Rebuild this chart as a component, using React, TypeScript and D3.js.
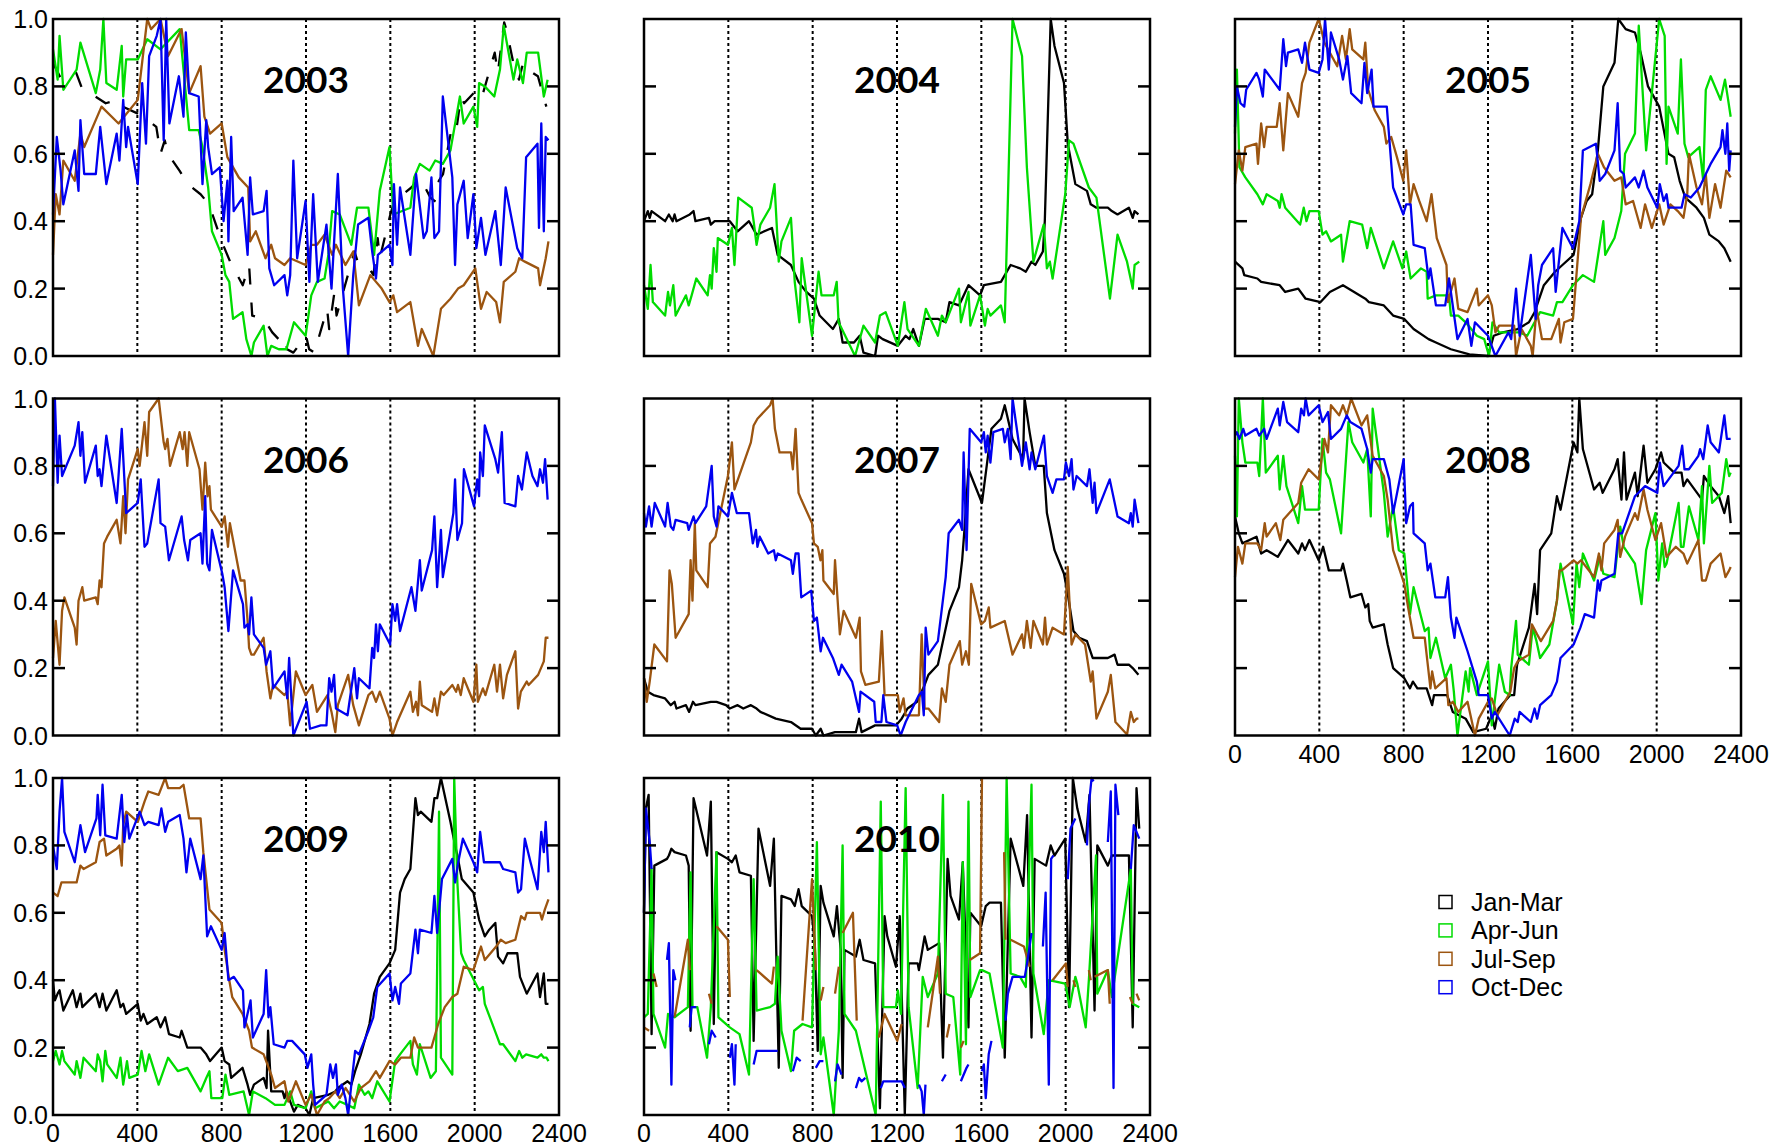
import React from 'react';
import * as d3 from 'd3';

type Pt = [number, number] | null;

// ---- data: [sample index, normalised value], null = gap ----
const jan2003: Pt[] = [[0,.87],[40,.82],[110,.84],[140,.79],[200,.77],[250,.75],[310,.76],[330,.74],[400,.72],[450,.70],[490,.68],[510,.60],[530,.64],[545,.60],[600,.55],[640,.51],[700,.48],[740,.45],[800,.34],[840,.28],[900,.21],[930,.27],[945,.12],[1000,.11],[1020,.09],[1040,.07],[1070,.05],[1100,.06],[1110,.02],[1140,.01],[1200,.06],[1215,.02],[1240,.01],[1300,.14],[1310,.08],[1335,.19],[1345,.12],[1430,.31],[1445,.28],[1500,.26],[1520,.24],[1540,.35],[1550,.29],[1600,.42],[1620,.46],[1700,.50],[1740,.53],[1790,.47],[1810,.46],[1830,.52],[1850,.54],[1895,.69],[1915,.68],[1935,.77],[1950,.75],[1995,.78],[2025,.76],[2035,.77],[2095,.90],[2110,.84],[2140,.99],[2150,.97],[2190,.85],[2210,.82],[2230,.87],[2250,.85],[2300,.83],[2340,.74]];
const apr2003: Pt[] = [[0,.91],[22,.82],[31,.95],[49,.79],[112,.85],[130,.93],[203,.78],[224,.85],[239,1],[253,.81],[302,.79],[326,.92],[333,.77],[347,.88],[402,.88],[447,.94],[510,.91],[601,.97],[646,.67],[691,.67],[709,.62],[736,.5],[754,.37],[800,.3],[818,.24],[836,.22],[854,.11],[899,.13],[917,.05],[941,0],[953,.04],[999,.09],[1017,0],[1035,.03],[1071,.02],[1107,.02],[1143,.1],[1198,.06],[1225,.18],[1252,.22],[1288,.23],[1306,.3],[1324,.43],[1360,.42],[1415,.33],[1442,.44],[1496,.44],[1523,.3],[1550,.49],[1596,.62],[1614,.42],[1695,.44],[1713,.53],[1740,.57],[1786,.55],[1813,.58],[1849,.57],[1885,.61],[1930,.77],[1948,.69],[1994,.74],[2012,.68],[2021,.81],[2048,.8],[2093,.77],[2120,.85],[2138,.98],[2184,.82],[2202,.88],[2229,.81],[2247,.9],[2301,.9],[2328,.77],[2346,.82]];
const jul2003: Pt[] = [[0,.3],[13,.48],[31,.42],[49,.58],[103,.52],[130,.66],[148,.62],[230,.74],[311,.69],[402,.76],[447,1],[465,.97],[510,1],[546,.89],[610,.97],[646,.78],[700,.86],[718,.71],[745,.66],[800,.69],[827,.59],[881,.53],[926,.5],[935,.34],[962,.37],[1008,.29],[1035,.33],[1053,.29],[1098,.27],[1125,.29],[1198,.27],[1225,.33],[1252,.33],[1288,.36],[1324,.3],[1342,.33],[1387,.27],[1424,.31],[1451,.15],[1505,.24],[1559,.2],[1596,.16],[1614,.18],[1632,.13],[1695,.16],[1731,.03],[1749,.08],[1804,0],[1822,.07],[1840,.14],[1885,.17],[1921,.2],[1948,.21],[2003,.26],[2030,.14],[2057,.19],[2102,.16],[2120,.1],[2138,.22],[2193,.25],[2211,.29],[2238,.28],[2301,.26],[2310,.21],[2337,.29],[2350,.34]];
const oct2003: Pt[] = [[0,.42],[18,.65],[36,.55],[49,.45],[103,.61],[121,.49],[130,.7],[148,.54],[203,.54],[224,.68],[253,.51],[302,.66],[315,.58],[333,.76],[347,.62],[356,.68],[402,.51],[423,.81],[441,.63],[456,.89],[492,.95],[510,1],[525,.64],[537,1],[552,.69],[597,.83],[619,.71],[630,.96],[646,.78],[691,.77],[709,.51],[727,.7],[736,.62],[754,.54],[791,.56],[809,.4],[827,.52],[832,.34],[845,.65],[857,.43],[899,.47],[923,.3],[935,.53],[948,.42],[999,.43],[1013,.49],[1026,.26],[1049,.21],[1098,.24],[1111,.18],[1125,.24],[1140,.58],[1158,.29],[1198,.46],[1216,.22],[1234,.48],[1256,.22],[1297,.39],[1321,.2],[1351,.54],[1375,.2],[1400,0],[1424,.24],[1447,.39],[1496,.41],[1514,.31],[1532,.23],[1541,.3],[1596,.33],[1610,.27],[1617,.51],[1632,.33],[1646,.5],[1695,.3],[1722,.54],[1758,.35],[1773,.37],[1795,.53],[1809,.35],[1831,.37],[1849,.77],[1894,.53],[1907,.27],[1918,.45],[1948,.52],[1967,.35],[1994,.48],[2008,.32],[2030,.41],[2051,.3],[2098,.43],[2124,.27],[2147,.5],[2202,.32],[2226,.29],[2244,.59],[2298,.63],[2305,.38],[2316,.69],[2328,.37],[2337,.65],[2350,.64]];

const jan2004: Pt[] = [[0,.4],[18,.43],[27,.41],[36,.43],[100,.4],[118,.42],[136,.4],[145,.42],[154,.4],[217,.42],[235,.43],[244,.4],[308,.41],[317,.39],[335,.4],[407,.4],[444,.37],[498,.4],[534,.36],[607,.38],[634,.3],[697,.27],[733,.22],[770,.19],[806,.17],[833,.12],[896,.08],[924,.11],[942,.04],[996,.04],[1023,.06],[1041,.01],[1096,0],[1110,.06],[1132,.05],[1204,.03],[1241,.06],[1259,.05],[1277,.08],[1304,.03],[1331,.11],[1394,.11],[1431,.1],[1449,.16],[1494,.15],[1539,.21],[1594,.18],[1612,.21],[1693,.22],[1739,.27],[1784,.26],[1811,.25],[1838,.28],[1856,.27],[1892,.31],[1901,.4],[1929,1],[1947,.92],[1992,.81],[2010,.63],[2046,.51],[2101,.49],[2119,.45],[2146,.44],[2200,.44],[2219,.43],[2246,.42],[2300,.44],[2318,.41],[2327,.43],[2345,.42]];
const apr2004: Pt[] = [[0,.21],[18,.14],[31,.27],[42,.16],[100,.12],[114,.19],[123,.15],[139,.21],[150,.12],[199,.18],[212,.15],[226,.18],[248,.23],[302,.18],[313,.24],[321,.2],[331,.32],[344,.25],[350,.35],[398,.33],[417,.38],[429,.27],[447,.47],[511,.44],[520,.4],[534,.33],[552,.39],[598,.44],[619,.51],[639,.28],[652,.34],[697,.41],[715,.22],[737,.1],[748,.29],[797,.06],[828,.25],[842,.18],[900,.18],[914,.22],[923,.1],[1001,0],[1041,.09],[1096,.04],[1119,.12],[1146,.13],[1204,.03],[1235,.16],[1250,.08],[1304,.03],[1337,.14],[1394,.06],[1413,.12],[1431,.1],[1494,.2],[1503,.1],[1539,.19],[1548,.09],[1594,.18],[1617,.09],[1630,.14],[1643,.12],[1693,.15],[1711,.1],[1748,1],[1793,.89],[1816,.56],[1847,.28],[1896,.39],[1911,.26],[1925,.28],[1938,.23],[1998,.48],[2016,.64],[2037,.63],[2110,.5],[2146,.47],[2210,.17],[2246,.36],[2291,.28],[2318,.2],[2327,.27],[2349,.28]];

const jan2005: Pt[] = [[0,.28],[35,.26],[44,.24],[106,.23],[124,.22],[212,.21],[238,.19],[300,.2],[335,.17],[406,.16],[450,.19],[512,.21],[565,.19],[618,.17],[635,.16],[706,.15],[750,.12],[803,.11],[847,.08],[918,.05],[953,.04],[1024,.02],[1112,.005],[1200,0],[1227,.06],[1271,.07],[1341,.08],[1394,.1],[1421,.13],[1465,.21],[1518,.25],[1553,.27],[1606,.3],[1641,.41],[1668,.46],[1694,.48],[1721,.61],[1747,.8],[1800,.87],[1818,1],[1853,.97],[1897,.96],[1924,.9],[1959,.8],[1977,.78],[2012,.74],[2056,.6],[2083,.59],[2109,.52],[2136,.47],[2189,.44],[2224,.41],[2250,.36],[2295,.34],[2321,.32],[2351,.28]];
const apr2005: Pt[] = [[0,.66],[9,.85],[21,.56],[49,.53],[106,.48],[132,.45],[150,.48],[203,.46],[212,.44],[221,.48],[238,.44],[309,.39],[326,.44],[339,.4],[353,.43],[397,.43],[415,.36],[432,.37],[455,.34],[503,.36],[512,.28],[544,.4],[603,.39],[627,.32],[644,.38],[706,.26],[750,.34],[794,.26],[812,.31],[833,.23],[882,.26],[909,.25],[914,.17],[953,.18],[1015,.18],[1024,.12],[1059,.12],[1094,.1],[1147,.06],[1182,.05],[1205,0],[1221,.1],[1253,.07],[1306,.07],[1350,.07],[1386,.06],[1447,.13],[1509,.12],[1527,.16],[1553,.16],[1603,.21],[1650,.24],[1703,.22],[1747,.4],[1756,.3],[1800,.35],[1832,.43],[1850,.6],[1897,.66],[1915,.98],[1950,.61],[1977,.78],[2012,1],[2038,.95],[2047,.57],[2056,.74],[2100,.66],[2115,.88],[2132,.63],[2150,.59],[2203,.62],[2221,.52],[2233,.79],[2256,.83],[2303,.76],[2324,.82],[2339,.76],[2351,.71]];
const jul2005: Pt[] = [[0,.51],[18,.61],[35,.55],[49,.62],[102,.63],[109,.57],[124,.69],[138,.62],[150,.68],[198,.68],[212,.75],[229,.61],[251,.78],[300,.71],[318,.81],[335,.84],[353,.93],[397,1],[424,.93],[485,.86],[508,.95],[526,.88],[544,.97],[556,.91],[609,.88],[618,.93],[632,.79],[662,.73],[706,.68],[718,.63],[741,.65],[768,.59],[798,.52],[812,.61],[830,.45],[847,.51],[874,.46],[909,.4],[932,.48],[957,.35],[1003,.27],[1010,.16],[1041,.23],[1059,.14],[1103,.13],[1147,.2],[1156,.15],[1200,.18],[1218,.15],[1235,.07],[1253,.09],[1324,.09],[1333,0],[1359,.08],[1403,.03],[1412,0],[1430,.14],[1456,.05],[1500,.05],[1536,.11],[1544,.04],[1562,.1],[1603,.11],[1641,.41],[1686,.51],[1721,.6],[1750,.56],[1800,.52],[1832,.53],[1853,.45],[1888,.46],[1924,.38],[1945,.45],[1977,.38],[2012,.45],[2033,.39],[2065,.45],[2100,.43],[2127,.41],[2145,.48],[2153,.6],[2189,.5],[2215,.45],[2233,.54],[2250,.41],[2277,.51],[2303,.44],[2330,.55],[2351,.53]];
const oct2005: Pt[] = [[0,.68],[9,.8],[26,.75],[44,.74],[53,.79],[102,.84],[115,.82],[132,.77],[141,.85],[212,.79],[229,.94],[242,.86],[251,.9],[300,.91],[318,.87],[332,.93],[353,.85],[397,.84],[415,.88],[427,1],[445,.85],[455,.96],[494,.88],[512,.82],[533,.89],[551,.78],[600,.75],[614,.87],[627,.78],[648,.85],[657,.74],[720,.74],[750,.5],[798,.42],[812,.45],[833,.45],[847,.33],[900,.32],[918,.23],[927,.26],[953,.15],[997,.15],[1015,.23],[1055,.05],[1103,.11],[1121,.03],[1138,.1],[1200,.06],[1235,0],[1297,.07],[1310,.05],[1333,.2],[1350,.06],[1403,.3],[1426,.11],[1438,.21],[1456,.27],[1509,.32],[1521,.19],[1553,.38],[1603,.32],[1633,.4],[1650,.61],[1712,.63],[1730,.52],[1756,.54],[1800,.61],[1815,.75],[1827,.55],[1844,.54],[1853,.5],[1897,.53],[1915,.5],[1938,.55],[1956,.5],[2003,.44],[2015,.51],[2033,.46],[2047,.48],[2056,.44],[2118,.44],[2132,.48],[2162,.47],[2203,.5],[2233,.54],[2256,.57],[2303,.62],[2312,.67],[2326,.6],[2335,.69],[2344,.55],[2351,.61]];

const jul2006: Pt[] = [[0,.23],[13,.34],[31,.21],[43,.37],[54,.41],[103,.32],[112,.27],[121,.4],[139,.44],[148,.4],[203,.41],[212,.39],[221,.46],[230,.44],[242,.57],[257,.59],[302,.64],[320,.57],[333,.71],[344,.6],[356,.76],[402,.85],[411,.8],[434,.93],[447,.83],[456,.96],[501,1],[525,.87],[532,.85],[543,.88],[555,.8],[601,.9],[615,.85],[624,.9],[637,.8],[646,.9],[695,.79],[709,.67],[722,.81],[733,.71],[742,.74],[749,.67],[800,.62],[814,.65],[830,.56],[839,.63],[890,.46],[908,.46],[923,.34],[930,.26],[941,.24],[953,.24],[999,.29],[1013,.19],[1031,.11],[1044,.15],[1098,.12],[1111,.13],[1125,.03],[1152,.19],[1198,.12],[1230,.15],[1252,.07],[1302,.12],[1321,.07],[1339,.01],[1351,.09],[1400,.18],[1424,.09],[1451,.03],[1496,.12],[1514,.13],[1532,.1],[1550,.13],[1596,.05],[1610,0],[1632,.04],[1695,.13],[1707,.07],[1722,.1],[1731,.06],[1740,.16],[1749,.09],[1798,.07],[1809,.11],[1822,.06],[1840,.13],[1853,.12],[1894,.15],[1912,.13],[1921,.15],[1934,.12],[1948,.17],[1994,.1],[2008,.21],[2015,.1],[2039,.14],[2051,.12],[2093,.21],[2106,.13],[2120,.21],[2135,.11],[2153,.18],[2193,.25],[2206,.08],[2219,.13],[2247,.16],[2256,.15],[2301,.18],[2328,.22],[2337,.29],[2350,.29]];
const oct2006: Pt[] = [[0,.74],[9,1],[22,.75],[31,.89],[43,.77],[103,.86],[121,.93],[130,.83],[139,.9],[152,.75],[203,.86],[212,.77],[221,.79],[230,.74],[253,.89],[302,.69],[326,.91],[347,.66],[402,.69],[416,.76],[434,.56],[447,.57],[501,.76],[510,.63],[532,.62],[550,.52],[610,.65],[622,.58],[640,.52],[651,.58],[700,.6],[709,.51],[722,.71],[731,.51],[742,.49],[754,.61],[803,.48],[814,.44],[832,.31],[854,.49],[901,.39],[908,.32],[923,.33],[930,.3],[941,.41],[953,.3],[999,.26],[1011,.21],[1031,.25],[1044,.14],[1098,.19],[1111,.11],[1120,.23],[1140,0],[1203,.1],[1219,.02],[1270,.03],[1297,.03],[1310,.17],[1321,.13],[1333,.18],[1342,.08],[1397,.06],[1429,.2],[1442,.11],[1451,.17],[1501,.14],[1514,.26],[1523,.23],[1532,.33],[1541,.25],[1550,.33],[1599,.27],[1610,.39],[1623,.34],[1632,.39],[1646,.31],[1700,.44],[1719,.37],[1740,.52],[1749,.43],[1798,.55],[1809,.65],[1822,.44],[1840,.61],[1849,.47],[1899,.66],[1907,.76],[1918,.58],[1940,.63],[1949,.79],[1997,.68],[2012,.76],[2021,.71],[2026,.84],[2039,.77],[2048,.92],[2098,.82],[2111,.78],[2129,.9],[2142,.69],[2193,.68],[2206,.77],[2224,.73],[2247,.84],[2274,.77],[2298,.74],[2310,.79],[2324,.75],[2334,.82],[2346,.7]];

const jan2007: Pt[] = [[0,.17],[18,.13],[45,.12],[100,.11],[127,.09],[145,.1],[154,.08],[199,.09],[214,.07],[232,.1],[244,.09],[317,.1],[344,.1],[389,.09],[407,.08],[444,.09],[471,.08],[507,.09],[534,.08],[552,.07],[625,.05],[697,.04],[743,.02],[797,.02],[815,0],[838,.02],[851,0],[906,.01],[1005,.01],[1020,.05],[1032,.01],[1096,.03],[1141,.03],[1195,.03],[1222,.05],[1250,.08],[1295,.1],[1331,.15],[1349,.18],[1394,.21],[1449,.37],[1494,.44],[1509,.52],[1521,.62],[1539,.79],[1603,.69],[1648,.91],[1693,.94],[1711,.98],[1748,.88],[1798,.82],[1805,1],[1829,.9],[1856,.8],[1896,.8],[1911,.66],[1947,.55],[1992,.48],[2010,.42],[2037,.31],[2064,.29],[2101,.28],[2128,.23],[2200,.23],[2232,.24],[2246,.21],[2300,.21],[2318,.2],[2345,.18]];
const jul2007: Pt[] = [[0,.17],[13,.1],[27,.16],[49,.27],[109,.22],[121,.49],[132,.45],[150,.29],[212,.36],[221,.52],[230,.4],[241,.63],[248,.49],[302,.44],[313,.57],[339,.59],[398,.77],[417,.87],[429,.73],[507,.87],[520,.92],[538,.94],[598,.98],[610,1],[621,.91],[643,.84],[697,.84],[706,.79],[719,.91],[733,.72],[746,.7],[797,.63],[806,.57],[824,.56],[837,.52],[846,.55],[851,.46],[900,.42],[906,.52],[929,.3],[947,.37],[1005,.29],[1023,.35],[1029,.19],[1050,.15],[1114,.16],[1128,.31],[1141,.12],[1204,.12],[1213,.07],[1231,.11],[1241,.06],[1304,.06],[1317,.3],[1331,.08],[1349,.08],[1400,.04],[1413,.14],[1431,.1],[1449,.21],[1498,.28],[1509,.21],[1527,.25],[1541,.21],[1552,.45],[1599,.33],[1617,.34],[1635,.38],[1643,.32],[1711,.34],[1748,.24],[1793,.3],[1802,.26],[1816,.34],[1834,.26],[1847,.34],[1892,.27],[1902,.35],[1911,.27],[1938,.32],[1992,.3],[2010,.5],[2028,.27],[2046,.3],[2092,.27],[2119,.16],[2128,.19],[2146,.05],[2200,.13],[2214,.18],[2236,.04],[2291,.003],[2309,.07],[2323,.04],[2336,.05],[2345,.05]];
const oct2007: Pt[] = [[0,.66],[9,.62],[24,.68],[36,.62],[51,.69],[100,.62],[112,.69],[127,.62],[139,.61],[150,.64],[205,.63],[212,.61],[235,.65],[244,.63],[295,.68],[321,.8],[331,.65],[344,.62],[353,.68],[398,.65],[417,.72],[440,.66],[498,.66],[516,.57],[531,.61],[538,.56],[549,.59],[589,.54],[616,.55],[625,.52],[634,.54],[697,.52],[706,.48],[719,.54],[733,.54],[746,.41],[793,.43],[806,.34],[820,.35],[838,.25],[849,.29],[896,.23],[924,.18],[937,.21],[987,.16],[1020,.07],[1027,.13],[1092,.1],[1099,.04],[1126,.04],[1135,.12],[1150,.04],[1201,.03],[1217,0],[1241,.04],[1304,.12],[1318,.13],[1327,.06],[1336,.32],[1349,.24],[1394,.28],[1431,.47],[1445,.6],[1494,.64],[1509,.61],[1516,.84],[1530,.55],[1545,.91],[1599,.87],[1612,.9],[1621,.84],[1630,.89],[1643,.81],[1657,.9],[1702,.91],[1711,.87],[1726,.91],[1739,.82],[1748,1],[1793,.8],[1811,.87],[1829,.79],[1838,.84],[1856,.79],[1897,.89],[1911,.77],[1938,.72],[1956,.76],[1992,.76],[2001,.81],[2016,.77],[2028,.82],[2037,.73],[2052,.77],[2101,.74],[2113,.79],[2128,.69],[2137,.75],[2146,.66],[2209,.76],[2246,.65],[2300,.63],[2309,.66],[2318,.62],[2327,.7],[2345,.63]];

const jan2008: Pt[] = [[0,.65],[18,.6],[35,.57],[102,.59],[124,.54],[150,.55],[203,.53],[251,.58],[300,.54],[318,.57],[332,.55],[353,.58],[397,.52],[418,.56],[445,.49],[503,.49],[512,.51],[530,.46],[547,.41],[600,.42],[618,.38],[632,.39],[639,.34],[653,.32],[706,.33],[724,.27],[750,.2],[803,.17],[830,.14],[844,.16],[865,.14],[909,.14],[935,.09],[944,.12],[1006,.12],[1033,.07],[1094,.05],[1130,.01],[1191,.02],[1218,.06],[1232,.02],[1250,.08],[1306,.12],[1324,.12],[1338,.21],[1394,.32],[1421,.45],[1433,.36],[1447,.55],[1500,.6],[1527,.71],[1544,.67],[1606,.87],[1624,.84],[1633,1],[1650,.85],[1703,.73],[1730,.75],[1744,.72],[1800,.79],[1815,.82],[1833,.7],[1845,.84],[1857,.7],[1897,.78],[1910,.71],[1938,.86],[1956,.75],[1994,.79],[2021,.84],[2033,.81],[2083,.78],[2118,.78],[2127,.74],[2145,.76],[2215,.7],[2224,.77],[2256,.74],[2295,.71],[2321,.66],[2339,.71],[2351,.63]];
const apr2008: Pt[] = [[0,.83],[9,.65],[18,1],[35,.87],[49,.81],[106,.81],[115,.77],[132,1],[146,.78],[203,.83],[212,.73],[229,.83],[244,.74],[300,.63],[318,.74],[332,.67],[397,.67],[415,.88],[432,.78],[450,.76],[503,.6],[538,.93],[556,.87],[609,.81],[627,.85],[644,.65],[653,.97],[706,.72],[724,.59],[750,.68],[777,.55],[803,.54],[830,.36],[847,.44],[900,.31],[918,.32],[927,.23],[953,.29],[997,.17],[1024,.21],[1038,.13],[1055,0],[1094,.19],[1108,.13],[1115,.2],[1147,.12],[1200,.22],[1218,.03],[1253,.21],[1280,.13],[1303,.12],[1310,.2],[1333,.34],[1341,.24],[1394,.21],[1412,.32],[1430,.28],[1447,.23],[1491,.27],[1527,.4],[1544,.51],[1603,.33],[1620,.51],[1633,.44],[1650,.54],[1703,.46],[1730,.53],[1747,.48],[1800,.47],[1827,.62],[1844,.56],[1897,.51],[1928,.39],[1950,.55],[1994,.66],[2008,.46],[2026,.57],[2038,.5],[2047,.51],[2104,.69],[2115,.56],[2127,.56],[2153,.68],[2198,.58],[2215,.74],[2224,.57],[2250,.8],[2263,.69],[2309,.72],[2330,.82],[2344,.77],[2351,.78]];
const jul2008: Pt[] = [[0,.47],[14,.56],[35,.51],[49,.57],[106,.57],[124,.55],[141,.63],[150,.59],[194,.63],[215,.58],[229,.64],[300,.69],[314,.75],[349,.79],[397,.76],[424,.88],[441,.84],[455,.98],[494,.95],[512,.98],[530,.95],[551,1],[600,.92],[627,.95],[653,.83],[706,.77],[724,.7],[750,.55],[803,.45],[821,.38],[847,.29],[900,.29],[927,.14],[935,.19],[950,.14],[1003,.17],[1012,.09],[1033,.1],[1059,.07],[1103,.1],[1138,0],[1156,.05],[1200,.1],[1218,.11],[1244,.06],[1306,.13],[1324,.2],[1341,.22],[1394,.24],[1408,.33],[1433,.3],[1451,.28],[1509,.34],[1527,.4],[1539,.49],[1550,.49],[1606,.52],[1624,.51],[1641,.52],[1703,.47],[1726,.54],[1738,.49],[1751,.57],[1800,.61],[1815,.64],[1827,.53],[1850,.59],[1897,.66],[1910,.64],[1938,.73],[1956,.67],[1994,.58],[2021,.63],[2047,.53],[2091,.56],[2127,.54],[2145,.51],[2198,.58],[2215,.46],[2233,.46],[2256,.51],[2303,.54],[2326,.47],[2344,.49],[2351,.5]];
const oct2008: Pt[] = [[0,.89],[9,.9],[21,.88],[39,.91],[49,.89],[102,.91],[115,.89],[138,.91],[150,.88],[203,.97],[212,.92],[229,.99],[247,.93],[300,.9],[314,.97],[327,.95],[335,1],[349,.95],[397,.98],[415,.93],[441,.96],[455,.88],[503,.91],[530,.95],[547,.93],[600,.91],[627,.85],[644,.78],[653,.82],[706,.82],[732,.76],[750,.66],[800,.82],[812,.63],[830,.68],[844,.69],[847,.6],[900,.57],[914,.49],[927,.51],[950,.41],[997,.41],[1010,.47],[1024,.35],[1041,.29],[1050,.35],[1103,.25],[1147,.16],[1156,.12],[1200,.12],[1218,.05],[1232,.07],[1303,0],[1327,.05],[1341,.04],[1350,.07],[1403,.04],[1421,.08],[1433,.05],[1447,.09],[1500,.12],[1527,.16],[1544,.23],[1606,.27],[1638,.32],[1659,.36],[1703,.35],[1721,.46],[1730,.43],[1738,.46],[1800,.48],[1818,.6],[1836,.6],[1897,.71],[1945,.74],[2003,.72],[2015,.81],[2033,.74],[2104,.8],[2121,.86],[2132,.79],[2153,.79],[2198,.83],[2206,.85],[2221,.82],[2242,.92],[2256,.87],[2295,.84],[2321,.95],[2333,.88],[2351,.88]];

const jan2009: Pt[] = [[0,.4],[9,.34],[22,.36],[31,.37],[49,.31],[94,.37],[112,.32],[130,.36],[139,.32],[203,.36],[221,.32],[235,.36],[253,.31],[302,.37],[320,.32],[333,.33],[347,.3],[402,.33],[416,.28],[429,.3],[447,.27],[492,.29],[510,.26],[532,.29],[550,.24],[601,.23],[610,.25],[637,.2],[700,.2],[727,.18],[745,.16],[800,.2],[814,.16],[836,.15],[845,.11],[899,.14],[923,.09],[935,.06],[953,.09],[999,.11],[1013,.08],[1020,.25],[1035,.07],[1089,.07],[1098,.05],[1107,.07],[1143,.01],[1161,.03],[1198,.02],[1216,0],[1234,.05],[1306,.06],[1339,.07],[1351,.08],[1397,.1],[1415,.09],[1433,.13],[1460,.18],[1501,.27],[1523,.36],[1550,.41],[1596,.45],[1623,.49],[1646,.66],[1668,.7],[1695,.73],[1719,.94],[1731,.89],[1744,.9],[1795,.87],[1809,.94],[1822,.94],[1840,1],[1885,.87],[1907,.8],[1918,.77],[1939,.7],[1994,.66],[2021,.58],[2048,.53],[2069,.55],[2098,.57],[2111,.47],[2135,.45],[2156,.48],[2202,.48],[2215,.41],[2247,.36],[2298,.42],[2310,.35],[2328,.42],[2337,.33],[2350,.33]];
const apr2009: Pt[] = [[0,.16],[13,.19],[31,.15],[43,.19],[54,.16],[103,.12],[112,.16],[130,.11],[145,.17],[203,.13],[212,.18],[224,.16],[235,.1],[248,.19],[257,.15],[302,.11],[320,.17],[333,.09],[351,.16],[362,.11],[402,.12],[420,.19],[438,.13],[456,.18],[501,.09],[546,.17],[592,.13],[637,.14],[700,.07],[727,.11],[742,.13],[751,.05],[803,.05],[818,.12],[836,.06],[904,.07],[930,0],[948,.07],[1008,.05],[1053,.03],[1098,.03],[1125,.07],[1143,.03],[1198,.02],[1225,.07],[1243,.02],[1306,.04],[1333,.02],[1360,.04],[1397,.03],[1429,.02],[1451,.09],[1478,.06],[1496,.07],[1514,.05],[1538,.1],[1596,.04],[1623,.16],[1646,.18],[1695,.22],[1707,.15],[1726,.12],[1740,.21],[1791,.11],[1816,.13],[1831,.9],[1840,.17],[1894,.12],[1903,1],[1918,.69],[1936,.48],[1948,.46],[1997,.4],[2021,.37],[2039,.38],[2048,.33],[2102,.24],[2120,.21],[2135,.21],[2193,.16],[2211,.19],[2226,.17],[2244,.18],[2298,.17],[2316,.18],[2328,.17],[2341,.17],[2350,.16]];
const jul2009: Pt[] = [[0,.66],[22,.65],[40,.69],[103,.69],[112,.69],[130,.74],[145,.73],[203,.75],[221,.81],[242,.82],[253,.77],[302,.79],[315,.8],[326,.74],[333,.86],[347,.9],[402,.87],[434,.93],[452,.96],[501,.95],[532,1],[546,.97],[601,.97],[619,.98],[646,.88],[700,.88],[713,.78],[742,.61],[800,.57],[814,.49],[836,.4],[850,.35],[899,.3],[930,.25],[944,.2],[999,.18],[1035,.12],[1053,.08],[1098,.1],[1116,.04],[1152,.1],[1198,.03],[1225,.06],[1252,0],[1288,.04],[1310,.05],[1339,.07],[1360,.05],[1388,.08],[1429,.04],[1460,.08],[1501,.1],[1532,.13],[1550,.11],[1596,.16],[1623,.15],[1650,.17],[1695,.17],[1713,.23],[1731,.2],[1795,.2],[1827,.27],[1858,.32],[1894,.35],[1918,.36],[1948,.44],[1994,.43],[2030,.5],[2048,.46],[2102,.5],[2124,.52],[2147,.51],[2193,.52],[2220,.59],[2238,.58],[2247,.6],[2310,.6],[2319,.58],[2333,.61],[2350,.64]];
const oct2009: Pt[] = [[0,.8],[18,.73],[31,.9],[43,1],[54,.84],[103,.75],[130,.86],[152,.78],[206,.88],[212,.95],[224,.83],[235,.98],[248,.83],[302,.82],[326,.95],[338,.81],[351,.89],[362,.82],[411,.9],[434,.86],[452,.87],[501,.86],[514,.91],[532,.84],[546,.87],[601,.89],[619,.82],[633,.72],[651,.82],[700,.7],[713,.77],[731,.53],[749,.56],[800,.49],[814,.54],[832,.4],[858,.41],[901,.37],[908,.26],[937,.34],[948,.23],[999,.3],[1011,.43],[1022,.29],[1031,.32],[1047,.21],[1098,.2],[1111,.22],[1134,.22],[1194,.18],[1207,.14],[1225,.18],[1234,.09],[1243,.03],[1297,.06],[1315,.15],[1328,.11],[1342,.15],[1351,.06],[1369,.09],[1387,.05],[1400,0],[1415,.09],[1433,.19],[1451,.18],[1496,.25],[1519,.29],[1538,.38],[1596,.42],[1610,.34],[1623,.38],[1641,.33],[1650,.39],[1695,.42],[1719,.55],[1731,.48],[1740,.55],[1795,.54],[1809,.65],[1822,.54],[1845,.7],[1894,.76],[1907,.69],[1922,.75],[1944,.82],[1994,.75],[2012,.72],[2026,.84],[2044,.75],[2098,.75],[2120,.75],[2135,.73],[2193,.72],[2206,.66],[2220,.67],[2238,.82],[2265,.75],[2298,.67],[2316,.84],[2328,.78],[2337,.87],[2350,.72]];

const jan2010: Pt[] = [[0,.6],[9,.91],[22,.95],[36,.24],[49,.74],[109,.76],[118,.77],[130,.79],[145,.78],[199,.77],[212,.74],[221,.25],[235,.94],[299,.77],[317,.93],[331,.27],[344,.78],[398,.76],[417,.75],[435,.77],[453,.72],[507,.71],[520,.22],[543,.85],[598,.68],[616,.82],[639,.14],[652,.65],[697,.64],[715,.62],[733,.67],[748,.62],[797,.59],[810,.51],[824,.19],[838,.68],[851,.63],[900,.53],[915,.62],[933,.49],[942,.11],[951,.49],[1005,.47],[1023,.52],[1041,.46],[1096,.45],[1119,.02],[1141,.59],[1154,.53],[1195,.44],[1213,.59],[1237,0],[1255,.45],[1298,.45],[1304,.43],[1331,.53],[1346,.49],[1400,.51],[1418,.17],[1440,.76],[1454,.65],[1494,.58],[1512,.75],[1539,.26],[1548,.6],[1599,.56],[1621,.62],[1639,.63],[1693,.63],[1711,.17],[1739,.82],[1799,.68],[1817,.89],[1838,.23],[1853,.76],[1907,.74],[1929,.8],[1947,.77],[1998,.82],[2016,.32],[2034,1],[2055,.91],[2095,.81],[2113,.95],[2137,.31],[2150,.8],[2200,.74],[2219,.77],[2300,.77],[2318,.26],[2336,.97],[2349,.85]];
const apr2010: Pt[] = [[0,.29],[18,.3],[36,.73],[45,.3],[100,.2],[114,.3],[145,.29],[208,.32],[221,.72],[230,.32],[253,.32],[299,.17],[317,.32],[344,.78],[353,.29],[407,.26],[453,.24],[498,.12],[520,.7],[534,.31],[598,.32],[621,.33],[634,.47],[652,.25],[697,.13],[712,.25],[752,.27],[797,.26],[820,.81],[838,.18],[851,.23],[900,0],[924,.25],[942,.8],[951,.3],[1005,.25],[1099,0],[1123,.93],[1135,.32],[1195,.32],[1204,.37],[1219,.3],[1241,.97],[1255,.32],[1298,.08],[1322,.41],[1346,.35],[1394,.42],[1418,.95],[1431,.36],[1467,.35],[1500,.12],[1512,.75],[1527,.21],[1539,.93],[1548,.35],[1594,.43],[1603,.43],[1639,.42],[1702,.2],[1720,1],[1739,.42],[1784,.41],[1811,.38],[1838,.98],[1847,.42],[1896,.24],[1920,.4],[1998,.39],[2019,.32],[2046,.41],[2055,.39],[2095,.26],[2110,.4],[2144,.77],[2150,.36],[2200,.43],[2219,.35],[2309,.73],[2318,.33],[2349,.32]];
const jul2010: Pt[] = [[0,.26],[24,.25],null,[45,.42],[60,.38],null,[145,.29],[208,.52],[217,.43],null,[308,.36],[321,.33],null,[344,.56],[398,.52],[407,.35],null,[534,.43],[552,.42],[607,.39],[616,.44],null,[752,.28],[797,.7],[815,.43],null,[838,.34],[851,.38],null,[906,.36],[924,.44],null,[942,.54],[991,.6],[1009,.28],null,[1114,.23],[1141,.3],[1201,.22],[1222,.27],null,[1346,.26],[1394,.47],[1404,.36],null,[1436,.23],[1449,.27],null,[1503,.2],[1516,.22],null,[1545,.46],[1594,.48],[1603,1],null,[1708,.78],[1715,.52],null,[1739,.52],[1802,.5],[1829,.44],null,[1938,.4],[2001,.45],[2010,.38],null,[2037,.4],[2046,.38],null,[2110,.43],[2119,.4],null,[2137,.41],[2200,.43],[2209,.33],null,[2305,.35],[2318,.33],null,[2336,.36],[2349,.34]];
const oct2010: Pt[] = [[0,.6],[9,.91],[27,.81],[36,.73],null,[109,.46],[118,.51],[130,.09],[139,.43],[149,.4],null,[217,.26],[226,.32],[248,.32],null,[308,.21],[321,.25],[340,.23],null,[407,.17],[417,.21],[429,.09],[435,.21],null,[520,.15],[534,.19],[634,.19],null,[706,.13],[724,.17],[743,.16],null,[815,.14],[833,.16],[851,.16],null,[906,.1],[918,.15],[937,.12],null,[1005,.08],[1020,.11],[1032,.1],[1050,.11],null,[1123,.08],[1135,.1],[1222,.1],[1237,.08],null,[1304,.09],[1317,.07],[1327,0],[1335,.09],null,[1413,.1],[1431,.12],null,[1503,.1],[1530,.14],[1539,.15],null,[1603,.13],[1612,.15],[1621,.05],[1635,.18],[1648,.22],null,[1715,.28],[1726,.36],[1748,.41],[1806,.41],[1817,.45],[1838,.54],null,[1892,.5],[1905,.66],[1920,.09],[1931,.76],[1942,.77],null,[2010,.7],[2023,.85],[2046,.88],null,[2101,.8],[2110,.92],[2123,1],[2132,.99],null,[2200,.81],[2214,.96],[2227,.08],[2236,.98],[2250,.89],null,[2309,.73],[2323,.86],[2336,.84],[2349,.82]];

const quarters = ['Jan-Mar', 'Apr-Jun', 'Jul-Sep', 'Oct-Dec'];
const quarterColors = ['#000000', '#00dc00', '#9c5510', '#0000f0'];
const xTicks = [0, 400, 800, 1200, 1600, 2000, 2400];
const yTicks = [0, 0.2, 0.4, 0.6, 0.8, 1.0];
const gridLines = [400, 800, 1200, 1600, 2000];

// series: [quarter index, data, dashed]
const panels: { year: string; col: number; row: number; series: [number, Pt[], boolean?][] }[] = [
  { year: '2003', col: 0, row: 0, series: [[0, jan2003, true], [1, apr2003], [2, jul2003], [3, oct2003]] },
  { year: '2004', col: 1, row: 0, series: [[0, jan2004], [1, apr2004]] },
  { year: '2005', col: 2, row: 0, series: [[0, jan2005], [1, apr2005], [2, jul2005], [3, oct2005]] },
  { year: '2006', col: 0, row: 1, series: [[2, jul2006], [3, oct2006]] },
  { year: '2007', col: 1, row: 1, series: [[0, jan2007], [2, jul2007], [3, oct2007]] },
  { year: '2008', col: 2, row: 1, series: [[0, jan2008], [1, apr2008], [2, jul2008], [3, oct2008]] },
  { year: '2009', col: 0, row: 2, series: [[0, jan2009], [1, apr2009], [2, jul2009], [3, oct2009]] },
  { year: '2010', col: 1, row: 2, series: [[0, jan2010], [1, apr2010], [2, jul2010], [3, oct2010]] },
];

const W = 506;
const H = 337;
const left0 = 53;
const top0 = 19;
const colStep = 591;
const rowStep = 379.5;
const tickFont = '"Liberation Sans", Arial, sans-serif';

const x = d3.scaleLinear().domain([0, 2400]).range([0, W]);
const y = d3.scaleLinear().domain([0, 1]).range([H, 0]);
const line = d3.line<Pt>()
  .defined(d => d !== null)
  .x(d => x((d as [number, number])[0]))
  .y(d => y((d as [number, number])[1]));

const Panel = ({ p }) => {
  const showX = p.row === 2 || (p.col === 2 && p.row === 1);
  const showY = p.col === 0;
  return (
    <g transform={`translate(${left0 + p.col * colStep},${top0 + p.row * rowStep})`}>
      {gridLines.map(g => (
        <line key={g} x1={x(g)} x2={x(g)} y1={0} y2={H} stroke="#000" strokeWidth={2} strokeDasharray="3,3" />
      ))}
      {p.series.map(([q, data, dashed]) => (
        <path key={q} d={line(data) || ''} fill="none" stroke={quarterColors[q]} strokeWidth={2.3}
          strokeDasharray={dashed ? '16,18' : undefined} strokeLinejoin="round" />
      ))}
      {yTicks.slice(1, -1).map(t => (
        <g key={t}>
          <line x1={0} x2={12} y1={y(t)} y2={y(t)} stroke="#000" strokeWidth={2.5} />
          <line x1={W - 12} x2={W} y1={y(t)} y2={y(t)} stroke="#000" strokeWidth={2.5} />
        </g>
      ))}
      <rect x={0} y={0} width={W} height={H} fill="none" stroke="#000" strokeWidth={2.5} />
      <text x={W / 2} y={74} textAnchor="middle" fontFamily="Lato, sans-serif" fontWeight={700} fontSize={37}>{p.year}</text>
      {showY && yTicks.map(t => (
        <text key={t} x={-5} y={y(t)} dy="0.36em" textAnchor="end" fontFamily={tickFont} fontSize={25}>{t.toFixed(1)}</text>
      ))}
      {showX && xTicks.map(t => (
        <text key={t} x={x(t)} y={H + 27} textAnchor="middle" fontFamily={tickFont} fontSize={25}>{t}</text>
      ))}
    </g>
  );
};

export default function App() {
  return (
    <svg width={1773} height={1148} style={{ position: 'absolute', left: 0, top: 0, background: '#fff' }}>
      {panels.map(p => <Panel key={p.year} p={p} />)}
      <g transform="translate(1439,902)">
        {quarters.map((q, i) => (
          <g key={q} transform={`translate(0,${i * 28.4})`}>
            <rect x={0} y={-6.5} width={13} height={13} fill="none" stroke={quarterColors[i]} strokeWidth={1.5} />
            <text x={32} y={0} dy="0.36em" fontFamily={tickFont} fontSize={25}>{q}</text>
          </g>
        ))}
      </g>
    </svg>
  );
}
